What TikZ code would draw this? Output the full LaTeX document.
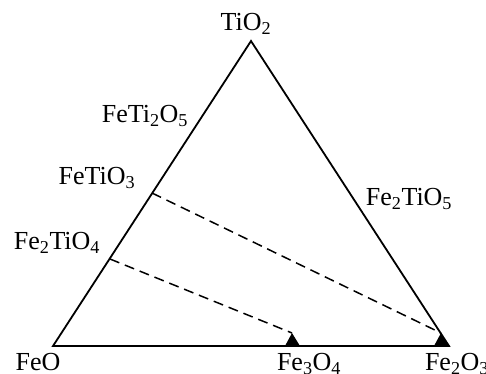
\documentclass[tikz,border=0pt]{standalone}
\usepackage{fontspec}
\setmainfont{Liberation Serif}
\begin{document}
\begin{tikzpicture}[x=1pt,y=-1pt,
  edge/.style={line width=1.8pt,line join=miter},
  tie/.style={line width=1.5pt,dash pattern=on 10pt off 6pt},
  lbl/.style={inner sep=0pt,font=\fontsize{26}{30}\selectfont},
  marker/.style={fill=black}]
\useasboundingbox (0,0) rectangle (486,373);
% vertices
\coordinate (FeO) at (53,346);
\coordinate (Fe2O3) at (449,346);
\coordinate (TiO2) at (251,41);
\coordinate (p4) at (110,259);
\coordinate (p3) at (152,193);
\coordinate (m34) at (292,333);
\coordinate (m23) at (441,333);
% triangle
\draw[edge] (FeO) -- (Fe2O3) -- (TiO2) -- cycle;
% tie lines
\draw[tie] (p3) -- (m23);
\draw[tie] (p4) -- (m34);
% markers
\fill[marker] (m34) -- (300,346) -- (285,346) -- cycle;
\fill[marker] (m23) -- (449,346) -- (434,346) -- cycle;
% labels
\node[lbl] (lTiO2) at (246,24) {TiO\textsubscript{2}};
\node[lbl] (lFeTi2O5) at (145,116) {FeTi\textsubscript{2}O\textsubscript{5}};
\node[lbl] (lFeTiO3) at (97,178) {FeTiO\textsubscript{3}};
\node[lbl] (lFe2TiO4) at (57,243) {Fe\textsubscript{2}TiO\textsubscript{4}};
\node[lbl] (lFe2TiO5) at (409,199) {Fe\textsubscript{2}TiO\textsubscript{5}};
\node[lbl] (lFeO) at (38,362) {FeO};
\node[lbl] (lFe3O4) at (309,364) {Fe\textsubscript{3}O\textsubscript{4}};
\node[lbl] (lFe2O3) at (457,364) {Fe\textsubscript{2}O\textsubscript{3}};
\end{tikzpicture}
\end{document}
